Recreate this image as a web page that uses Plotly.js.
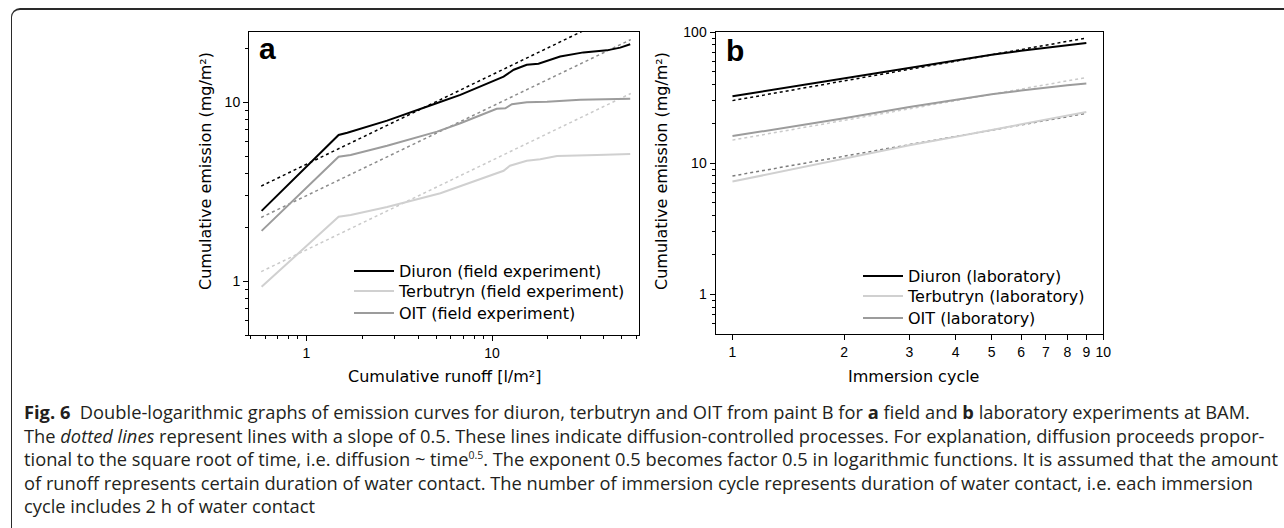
<!DOCTYPE html>
<html>
<head>
<meta charset="utf-8">
<script src="https://cdn.plot.ly/plotly-3.0.1.min.js"></script>
<style>
  html, body { margin: 0; padding: 0; background: #fff; }
  #wrap { position: relative; width: 1284px; height: 528px; overflow: hidden; background: #fff; }
  #frame { position: absolute; left: 11px; top: 8px; width: 1400px; height: 700px;
           border-top: 2px solid #2a2a2a; border-left: 1.5px solid #2a2a2a; border-top-left-radius: 9px; }
  #chart { position: absolute; left: 0; top: 0; width: 1284px; height: 528px; }
  #caption { position: absolute; left: 24px; top: 400px; width: 1258px;
             font-family: "Open Sans", sans-serif; font-size: 18.3px; line-height: 23.6px; color: #231f20; }
  #caption div { white-space: nowrap; }
  #caption b { font-weight: 700; }
  #caption sup { font-size: 10.5px; line-height: 0; vertical-align: 7px; }
</style>
</head>
<body>
<div id="wrap">
  <div id="frame"></div>
  <div id="chart"></div>
  <div id="caption">
    <div><b>Fig. 6</b>&nbsp; Double-logarithmic graphs of emission curves for diuron, terbutryn and OIT from paint B for <b>a</b> field and <b>b</b> laboratory experiments at BAM.</div>
    <div>The <i>dotted lines</i> represent lines with a slope of 0.5. These lines indicate diffusion-controlled processes. For explanation, diffusion proceeds propor-</div>
    <div>tional to the square root of time, i.e. diffusion ~ time<sup>0.5</sup>. The exponent 0.5 becomes factor 0.5 in logarithmic functions. It is assumed that the amount</div>
    <div>of runoff represents certain duration of water contact. The number of immersion cycle represents duration of water contact, i.e. each immersion</div>
    <div>cycle includes 2 h of water contact</div>
  </div>
</div>
<script>
// ---------- Panel a: field experiment ----------
const runoffDiuron = [0.573, 1.49, 1.66, 2.72, 4.85, 6.75, 11.55, 13.1, 15.4, 17.8, 23.3, 31.1, 41.6, 49.1, 55.6];
const emissionDiuronField = [2.47, 6.56, 6.76, 7.89, 9.75, 10.99, 13.9, 15.2, 16.2, 16.4, 18.0, 19.0, 19.5, 20.2, 21.1];

const runoffTerbutryn = [0.573, 1.49, 1.73, 2.72, 5.27, 7.03, 11.55, 12.5, 15.4, 18.2, 22.4, 36.8, 55.6];
const emissionTerbutrynField = [0.93, 2.29, 2.34, 2.6, 3.1, 3.44, 4.14, 4.42, 4.71, 4.8, 5.0, 5.07, 5.14];

const runoffOIT = [0.573, 1.49, 1.73, 2.72, 5.06, 6.75, 10.6, 11.8, 12.8, 15.4, 19.8, 29.9, 55.6];
const emissionOITField = [1.91, 4.96, 5.07, 5.71, 6.85, 7.63, 9.2, 9.25, 9.75, 10.0, 10.05, 10.34, 10.47];

// slope-0.5 reference lines (end points)
const slopeRunoff = [0.57, 56];
const slopeDiuronField = [3.4, 33.7];
const slopeOITField = [2.27, 22.4];
const slopeTerbutrynField = [1.13, 11.2];

// ---------- Panel b: laboratory ----------
const cycles = [1, 2, 3, 4, 5, 6, 7, 8, 9];
const emissionDiuronLab = [32.4, 44.5, 53.5, 61, 67, 72, 76, 79.5, 82.4];
const emissionTerbutrynLab = [7.25, 10.8, 13.7, 15.9, 17.9, 19.7, 21.4, 23, 24.6];
const emissionOITLab = [16.1, 22, 26.8, 30.6, 33.5, 35.8, 37.8, 39.3, 40.5];

const slopeCycles = [1, 9];
const slopeDiuronLab = [30, 90];
const slopeOITLab = [15, 45];
const slopeTerbutrynLab = [8, 24];

// tick values / labels
const ticksA_x = [1, 10];
const minorA_x = [0.5, 0.6, 0.7, 0.8, 0.9, 2, 3, 4, 5, 6, 7, 8, 9, 20, 30, 40, 50, 60];
const ticksA_y = [1, 10];
const minorA_y = [0.5, 0.6, 0.7, 0.8, 0.9, 2, 3, 4, 5, 6, 7, 8, 9, 20];
const ticksB_x = [1, 2, 3, 4, 5, 6, 7, 8, 9, 10];
const ticksB_y = [1, 10, 100];
const minorB_y = [0.6, 0.7, 0.8, 0.9, 2, 3, 4, 5, 6, 7, 8, 9, 20, 30, 40, 50, 60, 70, 80, 90];

const cBlack = '#000000', cLight = '#d0d0d0', cMid = '#9c9c9c';

const W = 1284, H = 528;
const px = v => v / W;
const py = v => 1 - v / H;

function dashed(x, y, color, xa, ya) {
  return { x, y, mode: 'lines', xaxis: xa, yaxis: ya, showlegend: false, hoverinfo: 'skip',
           line: { color, width: 1.5, dash: '3px,3px' } };
}
function solid(x, y, color, name, xa, ya, leg) {
  return { x, y, mode: 'lines', name, xaxis: xa, yaxis: ya, legend: leg,
           line: { color, width: 2 } };
}

const traces = [
  dashed(slopeRunoff, slopeTerbutrynField, '#cacaca', 'x', 'y'),
  dashed(slopeRunoff, slopeOITField, '#8c8c8c', 'x', 'y'),
  dashed(slopeRunoff, slopeDiuronField, cBlack, 'x', 'y'),
  solid(runoffDiuron, emissionDiuronField, cBlack, 'Diuron (field experiment)', 'x', 'y', 'legend'),
  solid(runoffTerbutryn, emissionTerbutrynField, cLight, 'Terbutryn (field experiment)', 'x', 'y', 'legend2'),
  solid(runoffOIT, emissionOITField, cMid, 'OIT (field experiment)', 'x', 'y', 'legend3'),

  dashed(slopeCycles, slopeTerbutrynLab, '#7c7c7c', 'x2', 'y2'),
  dashed(slopeCycles, slopeOITLab, '#cacaca', 'x2', 'y2'),
  dashed(slopeCycles, slopeDiuronLab, cBlack, 'x2', 'y2'),
  solid(cycles, emissionDiuronLab, cBlack, 'Diuron (laboratory)', 'x2', 'y2', 'legend4'),
  solid(cycles, emissionTerbutrynLab, cLight, 'Terbutryn (laboratory)', 'x2', 'y2', 'legend5'),
  solid(cycles, emissionOITLab, cMid, 'OIT (laboratory)', 'x2', 'y2', 'legend6')
];

const tickFont = { family: 'Liberation Sans, Arial, sans-serif', size: 14, color: '#000' };
const titleFont = { family: 'DejaVu Sans, Verdana, sans-serif', size: 16, color: '#000' };

function axis(extra) {
  return Object.assign({
    type: 'log', showline: true, mirror: true, linecolor: '#000', linewidth: 1,
    ticks: 'outside', ticklen: 5, tickwidth: 1, tickcolor: '#000',
    showgrid: false, zeroline: false, tickfont: tickFont, tickmode: 'array',
    automargin: false
  }, extra);
}

function leg(xLeft, yMid) {
  return { x: px(xLeft), y: py(yMid), xanchor: 'left', yanchor: 'middle', bgcolor: 'rgba(0,0,0,0)',
           font: titleFont, itemwidth: 40, borderwidth: 0 };
}

const layout = {
  width: W, height: H,
  margin: { l: 0, r: 0, t: 0, b: 0 },
  paper_bgcolor: 'rgba(0,0,0,0)',
  plot_bgcolor: '#ffffff',
  showlegend: true,
  xaxis: axis({ domain: [px(249), px(639)], anchor: 'y',
    range: [Math.log10(0.49), Math.log10(62)],
    tickvals: ticksA_x, ticktext: ticksA_x.map(String),
    minor: { tickmode: 'array', tickvals: minorA_x, ticks: 'outside', ticklen: 3, tickcolor: '#000', showgrid: false } }),
  yaxis: axis({ domain: [py(335), py(32)], anchor: 'x',
    range: [Math.log10(0.5), Math.log10(24.7)],
    tickvals: ticksA_y, ticktext: ticksA_y.map(String),
    minor: { tickmode: 'array', tickvals: minorA_y, ticks: 'outside', ticklen: 3, tickcolor: '#000', showgrid: false } }),
  xaxis2: axis({ domain: [px(715.5), px(1103.3)], anchor: 'y2',
    range: [Math.log10(0.9), 1],
    tickvals: ticksB_x, ticktext: ticksB_x.map(String) }),
  yaxis2: axis({ domain: [py(334), py(32)], anchor: 'x2',
    range: [Math.log10(0.5), 2],
    tickvals: ticksB_y, ticktext: ticksB_y.map(String),
    minor: { tickmode: 'array', tickvals: minorB_y, ticks: 'outside', ticklen: 3, tickcolor: '#000', showgrid: false } }),
  legend: leg(349, 271),
  legend2: leg(349, 291),
  legend3: leg(349, 313),
  legend4: leg(858, 276),
  legend5: leg(858, 296),
  legend6: leg(858, 318),
  annotations: [
    { text: 'Cumulative emission (mg/m²)', xref: 'paper', yref: 'paper', x: px(205), y: py(171),
      textangle: -90, showarrow: false, font: titleFont, xanchor: 'center', yanchor: 'middle' },
    { text: 'Cumulative emission (mg/m²)', xref: 'paper', yref: 'paper', x: px(661), y: py(171),
      textangle: -90, showarrow: false, font: titleFont, xanchor: 'center', yanchor: 'middle' },
    { text: 'Cumulative runoff [l/m²]', xref: 'paper', yref: 'paper', x: px(444), y: py(376),
      showarrow: false, font: titleFont, xanchor: 'center', yanchor: 'middle' },
    { text: 'Immersion cycle', xref: 'paper', yref: 'paper', x: px(913), y: py(376),
      showarrow: false, font: titleFont, xanchor: 'center', yanchor: 'middle' },
    { text: '<b>a</b>', xref: 'paper', yref: 'paper', x: px(257), y: py(48),
      showarrow: false, font: { family: 'Liberation Sans, Arial, sans-serif', size: 30, color: '#000' },
      xanchor: 'left', yanchor: 'middle' },
    { text: '<b>b</b>', xref: 'paper', yref: 'paper', x: px(724), y: py(51),
      showarrow: false, font: { family: 'Liberation Sans, Arial, sans-serif', size: 30, color: '#000' },
      xanchor: 'left', yanchor: 'middle' }
  ]
};

Plotly.newPlot('chart', traces, layout, { staticPlot: true, displayModeBar: false });
</script>
</body>
</html>
